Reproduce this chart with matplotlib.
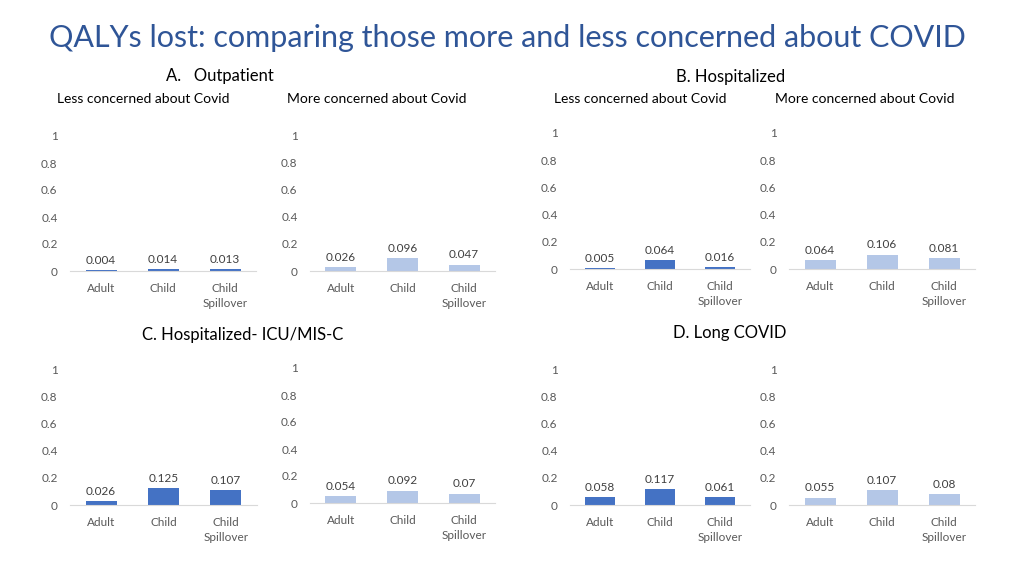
import matplotlib
matplotlib.use('Agg')
import matplotlib.pyplot as plt

plt.rcParams['font.family'] = ['Lato', 'DejaVu Sans']

categories = ['Adult', 'Child', 'Child\nSpillover']

# QALYs lost per panel: (less concerned, more concerned)
outpatient_less = [0.004, 0.014, 0.013]
outpatient_more = [0.026, 0.096, 0.047]
hospital_less = [0.005, 0.064, 0.016]
hospital_more = [0.064, 0.106, 0.081]
icu_less = [0.026, 0.125, 0.107]
icu_more = [0.054, 0.092, 0.07]
longcovid_less = [0.058, 0.117, 0.061]
longcovid_more = [0.055, 0.107, 0.08]

dark_blue = '#4472C4'
light_blue = '#B4C7E7'
W, H = 1024, 576

fig = plt.figure(figsize=(10.24, 5.76), dpi=100)


def panel(x0, x1, y0, y1, values, color):
    # x0/x1: pixel x of axis ends, y0: pixel y of zero line, y1: pixel y of 1.0
    ax = fig.add_axes([x0 / W, (H - y0) / H, (x1 - x0) / W, (y0 - y1) / H])
    xs = range(len(categories))
    ax.bar(xs, values, width=0.5, color=color)
    for x, v in zip(xs, values):
        ax.annotate(f'{v:g}', (x, v), xytext=(0, 3), textcoords='offset points',
                    ha='center', va='bottom', fontsize=8.5, color='#404040')
    ax.set_xlim(-0.5, 2.5)
    ax.set_ylim(0, 1)
    ax.set_yticks([0, 0.2, 0.4, 0.6, 0.8, 1])
    ax.set_yticklabels(['0', '0.2', '0.4', '0.6', '0.8', '1'])
    ax.set_xticks(list(xs))
    ax.set_xticklabels(categories, fontsize=8.5, color='#595959', linespacing=1.45)
    ax.tick_params(axis='y', length=0, pad=9, labelsize=8.5, labelcolor='#595959')
    ax.tick_params(axis='x', length=0, pad=8.5)
    for s in ['top', 'right', 'left']:
        ax.spines[s].set_visible(False)
    ax.spines['bottom'].set_color('#D9D9D9')
    ax.patch.set_alpha(0)
    return ax


panel(70, 256, 271, 136, outpatient_less, dark_blue)
panel(310, 495, 271, 135, outpatient_more, light_blue)
panel(570, 750, 269, 133, hospital_less, dark_blue)
panel(789, 975, 269, 133, hospital_more, light_blue)
panel(70, 257, 505, 369, icu_less, dark_blue)
panel(310, 495, 503, 368, icu_more, light_blue)
panel(570, 750, 505, 369, longcovid_less, dark_blue)
panel(789, 975, 505, 369, longcovid_more, light_blue)

fig.text(507 / W, 1 - 38 / H, 'QALYs lost: comparing those more and less concerned about COVID',
         ha='center', va='center', fontsize=22, color='#2F5597')

sec_kw = dict(ha='center', va='center', fontsize=12, color='black')
fig.text(220 / W, 1 - 76 / H, 'A.   Outpatient', **sec_kw)
fig.text(731 / W, 1 - 77 / H, 'B. Hospitalized', **sec_kw)
fig.text(243 / W, 1 - 335 / H, 'C. Hospitalized- ICU/MIS-C', **sec_kw)
fig.text(730 / W, 1 - 333 / H, 'D. Long COVID', **sec_kw)

sub_kw = dict(ha='center', va='center', fontsize=10, color='black')
fig.text(143 / W, 1 - 99 / H, 'Less concerned about Covid', **sub_kw)
fig.text(377 / W, 1 - 99 / H, 'More concerned about Covid', **sub_kw)
fig.text(640 / W, 1 - 99 / H, 'Less concerned about Covid', **sub_kw)
fig.text(865 / W, 1 - 99 / H, 'More concerned about Covid', **sub_kw)

fig.savefig('out.png', dpi=100)
